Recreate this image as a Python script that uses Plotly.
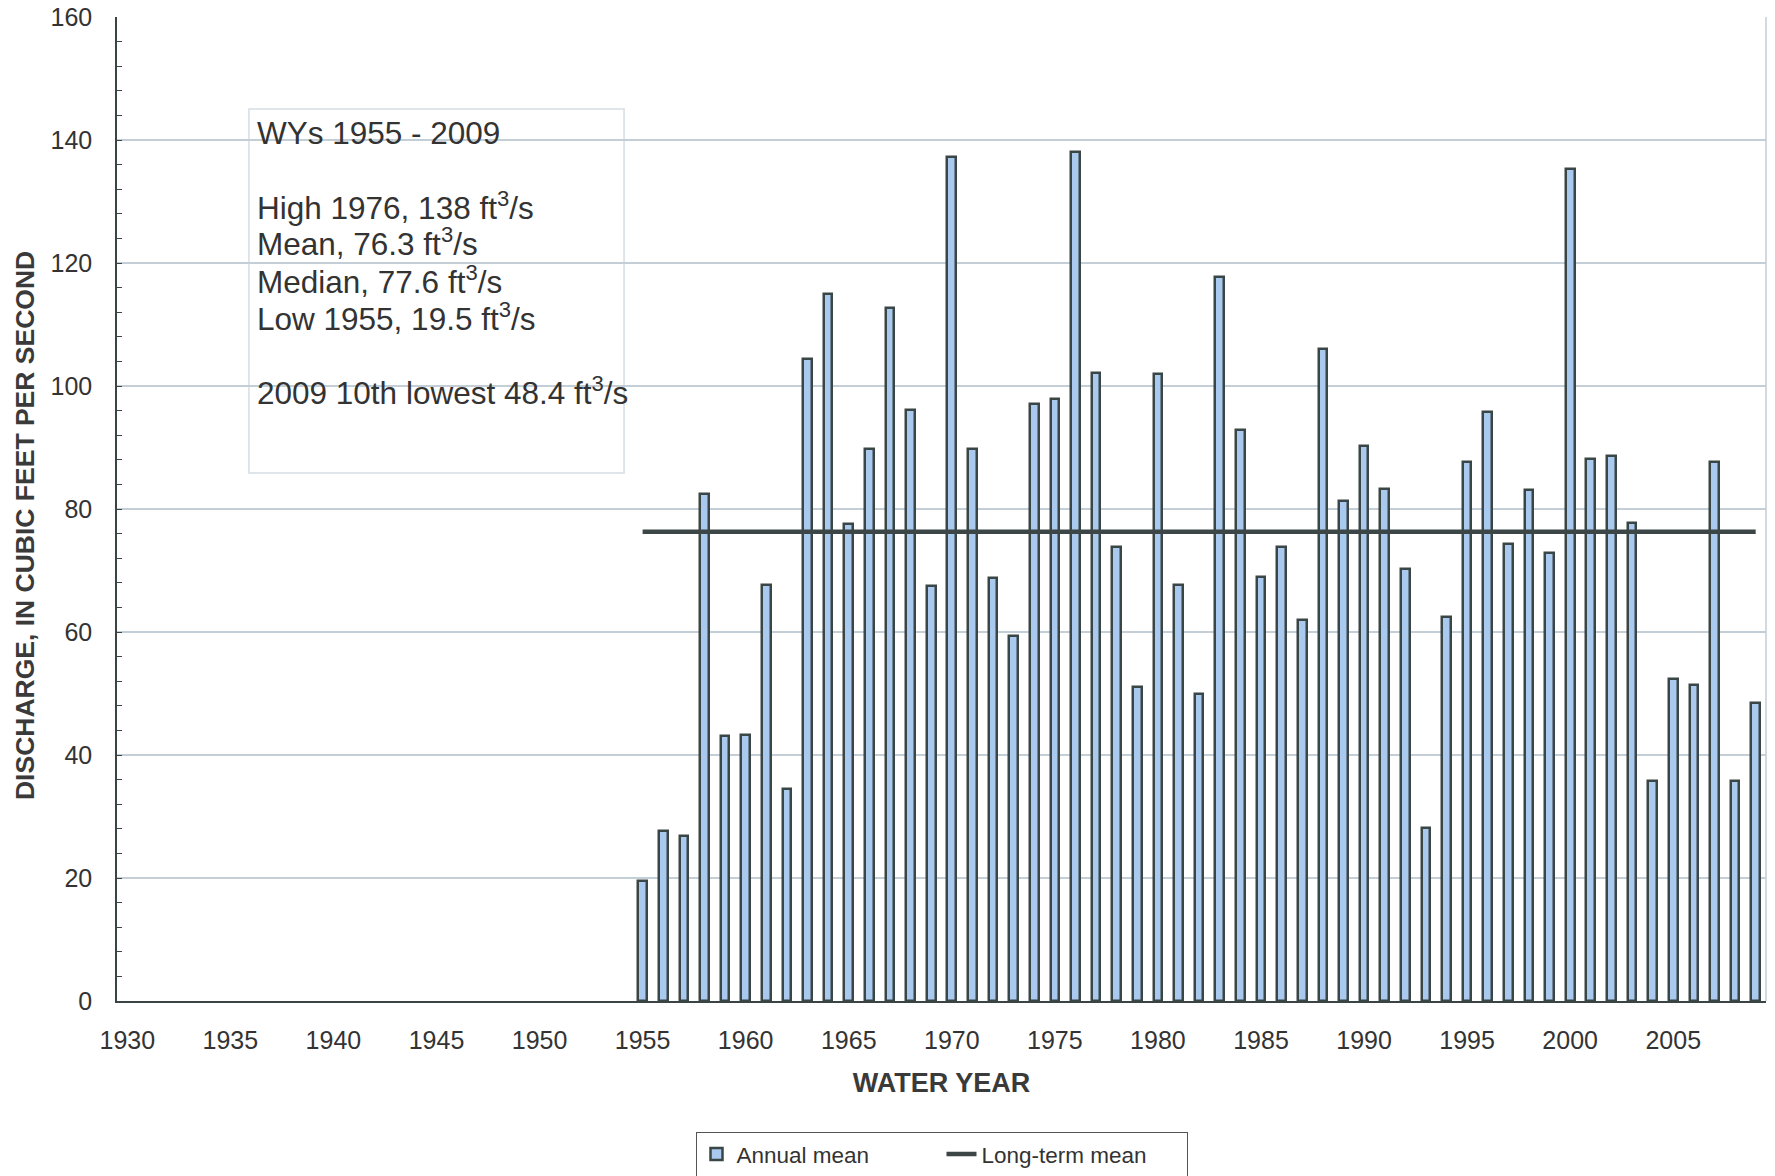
# Annual mean discharge, WYs 1955-2009, with long-term mean line

import plotly.graph_objs as go

years = list(range(1955, 2010))
annual_mean = [19.5, 27.7, 26.8, 82.5, 43.1, 43.2, 67.6, 34.4, 104.4, 114.9,
               77.6, 89.7, 112.7, 96.1, 67.4, 137.3, 89.8, 68.7, 59.3, 97.1,
               97.9, 138.0, 102.1, 73.8, 51.0, 101.9, 67.6, 50.0, 117.8, 92.8,
               69.0, 73.8, 62.0, 106.0, 81.3, 90.3, 83.2, 70.2, 28.1, 62.5,
               87.7, 95.7, 74.3, 83.1, 72.9, 135.3, 88.2, 88.7, 77.7, 35.8,
               52.4, 51.4, 87.7, 35.7, 48.4]
long_term_mean = 76.3

x_ticks = list(range(1930, 2010, 5))
y_ticks = list(range(0, 161, 20))

stats_lines = [
    "WYs 1955 - 2009",
    "",
    "High 1976, 138 ft<sup>3</sup>/s",
    "Mean, 76.3 ft<sup>3</sup>/s",
    "Median, 77.6 ft<sup>3</sup>/s",
    "Low 1955, 19.5 ft<sup>3</sup>/s",
    "",
    "2009 10th lowest 48.4 ft<sup>3</sup>/s",
]

text_col = "#333333"
grid_col = "#c3ced6"
axis_col = "#3a4444"

data = [
    go.Bar(x=years, y=annual_mean, name="Annual mean", width=0.42,
           marker=dict(color="#a9c9ef", line=dict(color="#3a4545", width=2.5))),
    go.Scatter(x=[years[0], years[-1]], y=[long_term_mean, long_term_mean],
               mode="lines", name="Long-term mean",
               line=dict(color="#3c4646", width=4.5)),
]

layout = go.Layout(
    width=1775, height=1176,
    margin=dict(l=117, r=9, t=17, b=175, autoexpand=False),
    paper_bgcolor="white", plot_bgcolor="white",
    font=dict(family="Liberation Sans, Arial, sans-serif", color=text_col),
    xaxis=dict(range=[1929.5, 2009.5], tickvals=x_ticks, showgrid=False,
               showline=True, linecolor=axis_col, linewidth=2, ticks="",
               ticklabelstandoff=16, tickfont=dict(size=25), zeroline=False,
               automargin=False,
               title=dict(text="<b>WATER YEAR</b>", font=dict(size=27, color="#3a3a3a"),
                          standoff=20)),
    yaxis=dict(range=[0, 160], tickvals=y_ticks, showgrid=True, gridcolor=grid_col,
               gridwidth=1.5, showline=True, linecolor=axis_col, linewidth=1.5,
               ticks="inside", ticklen=5, tickcolor=axis_col, zeroline=False,
               minor=dict(dtick=4, ticks="inside", ticklen=5, tickcolor=axis_col,
                          showgrid=False),
               ticklabelstandoff=18, tickfont=dict(size=25), automargin=False),
    showlegend=True,
    legend=dict(orientation="h", x=0.5, xanchor="center", y=-0.133, yanchor="top",
                bordercolor="#555555", borderwidth=1, font=dict(size=22.5),
                traceorder="normal", entrywidth=200, entrywidthmode="pixels"),
    bargap=0,
)

fig = go.Figure(data=data, layout=layout)

# y axis title as an annotation (it sits a little below the plot centre)
fig.add_annotation(xref="paper", yref="paper", x=-0.0558, y=0.4837,
                   xanchor="center", yanchor="middle", textangle=-90,
                   showarrow=False, text="<b>DISCHARGE, IN CUBIC FEET PER SECOND</b>",
                   font=dict(size=26.5, color="#3a3a3a"))

# statistics box
fig.add_shape(type="rect", xref="paper", yref="paper", x0=0.080, x1=0.3075,
              y0=0.5366, y1=0.9065, fillcolor="white",
              line=dict(color="#d6dde2", width=1.5), layer="below")
# each text line placed at its own height (pixel centres measured on the reference)
line_centres = [132.5, 168, 206, 242, 280, 317, 354, 390.5]
for txt, yc in zip(stats_lines, line_centres):
    if not txt:
        continue
    fig.add_annotation(xref="paper", yref="paper", x=0.0835,
                       y=1 - (yc - 17) / 984, xanchor="left", yanchor="middle",
                       align="left", showarrow=False, text=txt,
                       font=dict(size=31.5, color=text_col))
# light right border of plot area
fig.add_shape(type="line", xref="paper", yref="paper", x0=1, x1=1, y0=0, y1=1,
              line=dict(color=grid_col, width=1.5))

fig.write_html("out.html", config={"displayModeBar": False},
               post_script="document.body.style.margin='0';document.body.style.overflow='hidden';")
